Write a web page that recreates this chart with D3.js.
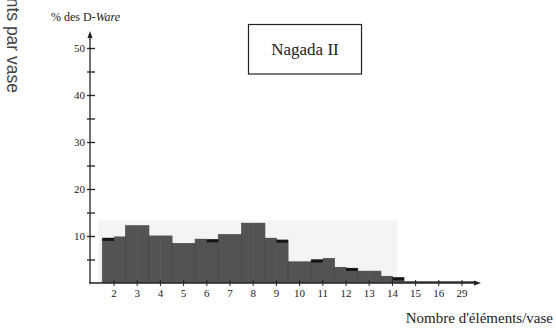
<!DOCTYPE html>
<html>
<head>
<meta charset="utf-8">
<script src="https://cdn.jsdelivr.net/npm/d3@7"></script>
<style>
  body { margin: 0; background: #fff; }
  svg { display: block; }
  .serif { font-family: "Liberation Serif", "Times New Roman", Times, "DejaVu Serif", "Noto Serif", serif; }
</style>
</head>
<body>
<div id="chart"></div>
<script>
// categories = number of elements per vase
var categories = ["2","3","4","5","6","7","8","9","10","11","12","13","14","15","16","29"];
// % of D-Ware, each bar read as a left and right step
var leftPart  = [9.6, 12.3, 10.1, 8.5, 9.4, 10.4, 12.8, 9.6, 4.6, 5.0, 3.4, 2.6, 1.5, 0.4, 0.4, 0.4];
var rightPart = [9.9, 12.3, 10.1, 8.5, 9.3, 10.4, 12.8, 9.2, 4.6, 5.3, 3.2, 2.6, 1.2, 0.4, 0.4, 0.4];
var yTicks = [5, 10, 15, 20, 25, 30, 35, 40, 45, 50];

var width = 556, height = 334;

var svg = d3.select("#chart")
  .append("svg")
    .attr("width", width)
    .attr("height", height);

// scales
var x = d3.scaleBand()
  .domain(categories)
  .range([102.4, 473.6])
  .padding(0);
var sub = d3.scaleBand()
  .domain(["left", "right"])
  .range([0, x.bandwidth()]);
var y = d3.scaleLinear()
  .domain([0, 50])
  .range([283, 48]);

// faint scan background behind the bars
svg.append("rect")
  .attr("x", x("2") - 4)
  .attr("y", y(13.3))
  .attr("width", x("14") + x.bandwidth() * 0.7 - x("2") + 4)
  .attr("height", y(0) - y(13.3))
  .attr("fill", "#f4f4f4");

var rows = categories.map(function(c, i) {
  return {cat: c, left: leftPart[i], right: rightPart[i]};
});
var halves = [];
rows.forEach(function(d) {
  halves.push({cat: d.cat, side: "left", v: d.left, other: d.right});
  halves.push({cat: d.cat, side: "right", v: d.right, other: d.left});
});

// bars
svg.selectAll("mybar")
  .data(halves)
  .enter()
  .append("rect")
    .attr("x", function(d) { return x(d.cat) + sub(d.side); })
    .attr("y", function(d) { return y(d.v); })
    .attr("width", sub.bandwidth() + 0.5)
    .attr("height", function(d) { return y(0) - y(d.v); })
    .attr("fill", "#535353");

// thin separators between bars
svg.selectAll("mysep")
  .data(rows.filter(function(d) { return d.left > 1; }))
  .enter()
  .append("line")
    .attr("x1", function(d) { return x(d.cat); })
    .attr("x2", function(d) { return x(d.cat); })
    .attr("y1", y(0))
    .attr("y2", function(d) { return y(d.left); })
    .attr("stroke", "#444")
    .attr("stroke-width", 0.7);

// dark caps on the lower step
svg.selectAll("mycap")
  .data(halves.filter(function(d) { return d.v < d.other; }))
  .enter()
  .append("rect")
    .attr("x", function(d) { return x(d.cat) + sub(d.side); })
    .attr("y", function(d) { return y(d.v); })
    .attr("width", sub.bandwidth())
    .attr("height", 3)
    .attr("fill", "#141414");

// Y axis
var yAxis = svg.append("g")
  .attr("transform", "translate(90,0)")
  .call(d3.axisLeft(y)
    .tickValues(yTicks)
    .tickSize(3)
    .tickPadding(2)
    .tickFormat(function(d) { return d % 10 === 0 ? d : ""; }));
yAxis.attr("font-family", null);
yAxis.select(".domain").remove();
yAxis.selectAll("line").attr("x2", -3).attr("x1", 5).attr("stroke", "#222").attr("stroke-width", 1.3);
yAxis.selectAll("text")
  .attr("class", "serif")
  .style("font-size", "11px")
  .attr("fill", "#222");

svg.append("line")
  .attr("x1", 90).attr("x2", 90)
  .attr("y1", y(0)).attr("y2", 35)
  .attr("stroke", "#222").attr("stroke-width", 1.3);
svg.append("path")
  .attr("d", "M90,31 L87.5,38 L92.5,38 Z")
  .attr("fill", "#222");

// X axis
var xAxis = svg.append("g")
  .attr("transform", "translate(0," + y(0) + ")")
  .call(d3.axisBottom(x).tickSize(3).tickPadding(3));
xAxis.attr("font-family", null);
xAxis.select(".domain").remove();
xAxis.selectAll("line").attr("y1", -3).attr("stroke", "#222");
xAxis.selectAll("text")
  .attr("class", "serif")
  .style("font-size", "11px")
  .attr("fill", "#222");

svg.append("line")
  .attr("x1", 89).attr("x2", 477)
  .attr("y1", y(0)).attr("y2", y(0))
  .attr("stroke", "#222").attr("stroke-width", 1.3);
svg.append("path")
  .attr("d", "M481," + y(0) + " L474," + (y(0) - 2.5) + " L474," + (y(0) + 2.5) + " Z")
  .attr("fill", "#222");

// Y axis title
var yt = svg.append("text")
  .attr("class", "serif")
  .attr("x", 51)
  .attr("y", 21)
  .style("font-size", "12px")
  .attr("fill", "#222");
yt.append("tspan").text("% des D-");
yt.append("tspan").style("font-style", "italic").text("Ware");

// X axis title
svg.append("text")
  .attr("class", "serif")
  .attr("x", 553)
  .attr("y", 323)
  .attr("text-anchor", "end")
  .style("font-size", "15px")
  .attr("fill", "#222")
  .text("Nombre d'éléments/vase");

// rotated label cut at the top edge
svg.append("text")
  .attr("transform", "translate(7,93) rotate(90)")
  .attr("text-anchor", "end")
  .style("font-family", "'Liberation Sans', Arial, sans-serif")
  .style("font-size", "17.5px")
  .attr("fill", "#444")
  .text("Nombre d'éléments par vase");

// title box
svg.append("rect")
  .attr("x", 248.5).attr("y", 24.5)
  .attr("width", 113).attr("height", 49.5)
  .attr("fill", "none")
  .attr("stroke", "#222").attr("stroke-width", 1.2);
svg.append("text")
  .attr("class", "serif")
  .attr("x", 305)
  .attr("y", 55)
  .attr("text-anchor", "middle")
  .style("font-size", "17px")
  .attr("fill", "#222")
  .text("Nagada II");
</script>
</body>
</html>
